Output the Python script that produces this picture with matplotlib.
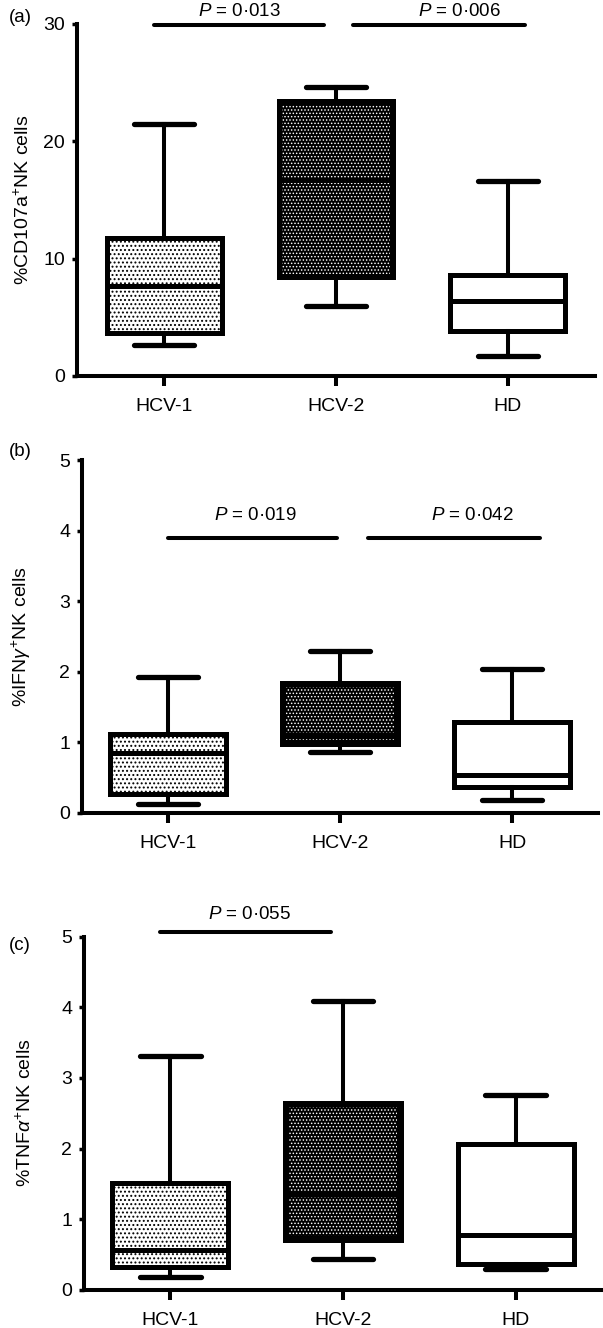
import numpy as np
import matplotlib
matplotlib.use('Agg')
import matplotlib.pyplot as plt
from matplotlib.patches import Rectangle

plt.rcParams['font.family'] = ['Liberation Sans', 'DejaVu Sans']
plt.rcParams['mathtext.fontset'] = 'custom'
plt.rcParams['mathtext.rm'] = 'Liberation Sans'
plt.rcParams['mathtext.it'] = 'Liberation Sans:italic'
plt.rcParams['hatch.linewidth'] = 0.9

groups = ['HCV-1', 'HCV-2', 'HD']

# each box: whisker low, q1, median, q3, whisker high
cd107a_stats = [[2.6, 3.7, 7.7, 11.8, 21.5],
                [6.0, 8.4, 16.7, 23.4, 24.6],
                [1.7, 3.8, 6.4, 8.6, 16.6]]
ifng_stats = [[0.13, 0.27, 0.84, 1.11, 1.92],
              [0.86, 0.98, 1.10, 1.84, 2.29],
              [0.18, 0.36, 0.54, 1.28, 2.04]]
tnfa_stats = [[0.18, 0.32, 0.56, 1.51, 3.31],
              [0.44, 0.70, 1.35, 2.64, 4.09],
              [0.30, 0.36, 0.78, 2.07, 2.76]]

ylabels = ['%CD107a$^{+}$NK cells', r'%IFN$\gamma^{+}$NK cells', r'%TNF$\alpha^{+}$NK cells']
ymax = [30, 5, 5]
yticks = [[0, 10, 20, 30], [0, 1, 2, 3, 4, 5], [0, 1, 2, 3, 4, 5]]
panel_labels = ['(a)', '(b)', '(c)']

# significance annotations per panel: (group i, group j, P text)
p_pairs = [[(0, 1, '0·013'), (1, 2, '0·006')],
           [(0, 1, '0·019'), (1, 2, '0·042')],
           [(0, 1, '0·055')]]
p_bar_y = [29.9, 3.9, 5.06]

# layout (pixels of a 603x1328 figure)
W, H = 603, 1328
axes_px = [(77, 952, 518, 352), (82, 515.3, 516, 352.7), (84, 38.3, 518, 353)]
xlims = [(-0.51, 2.51), (-0.5, 2.5), (-0.5, 2.5)]
bar_x = [[(-0.06, 0.93), (1.10, 2.10)],
         [(0.0, 0.98), (1.16, 2.16)],
         [(-0.06, 0.93)]]
text_x = [[0.44, 1.72], [0.51, 1.77], [0.46]]
text_y = [31.05, 4.22, 5.31]
label_y = [17, 452, 945]
ylabel_px = [33, 33, 35]

all_stats = [cd107a_stats, ifng_stats, tnfa_stats]

fig = plt.figure(figsize=(W / 100, H / 100), dpi=100)

box_w = 0.67
for k in range(3):
    l, b, w, h = axes_px[k]
    ax = fig.add_axes([l / W, b / H, w / W, h / H])
    stats = []
    for s in all_stats[k]:
        stats.append(dict(whislo=s[0], q1=s[1], med=s[2], q3=s[3], whishi=s[4], fliers=[]))
    res = ax.bxp(stats, positions=[0, 1, 2], widths=box_w, patch_artist=True,
                 showfliers=False, capwidths=0.35,
                 boxprops=dict(linewidth=3.6, edgecolor='black'),
                 whiskerprops=dict(linewidth=2.9, color='black'),
                 capprops=dict(linewidth=3.8, color='black', solid_capstyle='round'),
                 medianprops=dict(linewidth=3.6, color='black', zorder=4))
    boxes = res['boxes']
    boxes[0].set_facecolor('white')
    boxes[0].set_hatch('....')
    boxes[1].set_facecolor('black')
    boxes[2].set_facecolor('white')

    # white dotted texture inside the dark HCV-2 box
    s = all_stats[k][1]
    dx = 0.022
    dy = 0.011 * ymax[k]
    tex = Rectangle((1 - box_w / 2 + dx, s[1] + dy), box_w - 2 * dx, s[3] - s[1] - 2 * dy,
                    facecolor='none', edgecolor='white', linewidth=0,
                    hatch='.....', zorder=3)
    if hasattr(tex, 'set_hatch_linewidth'):
        tex.set_hatch_linewidth(0.65)
    ax.add_patch(tex)

    for (i, j, p), (x0, x1), tx in zip(p_pairs[k], bar_x[k], text_x[k]):
        ax.plot([x0, x1], [p_bar_y[k], p_bar_y[k]], color='black', linewidth=2.9,
                solid_capstyle='round', clip_on=False)
        ax.text(tx, text_y[k], '$P$ = ' + p, ha='center', va='center',
                fontsize=13.5, clip_on=False)

    ax.set_xlim(*xlims[k])
    ax.set_ylim(0, ymax[k])
    ax.set_yticks(yticks[k])
    ax.set_xticks([0, 1, 2])
    ax.set_xticklabels(groups)
    ax.set_ylabel(ylabels[k], fontsize=14)
    ax.yaxis.set_label_coords((ylabel_px[k] - l) / w, 0.5)
    for side in ['top', 'right']:
        ax.spines[side].set_visible(False)
    for side in ['left', 'bottom']:
        ax.spines[side].set_linewidth(2.9)
    ax.tick_params(axis='x', length=7, width=2.9, pad=9, labelsize=14)
    ax.tick_params(axis='y', length=3.6, width=2.5, pad=5, labelsize=14)

    fig.text(20 / W, 1 - label_y[k] / H, panel_labels[k], ha='center', va='center', fontsize=13.5)

fig.savefig('out.png', dpi=100)
